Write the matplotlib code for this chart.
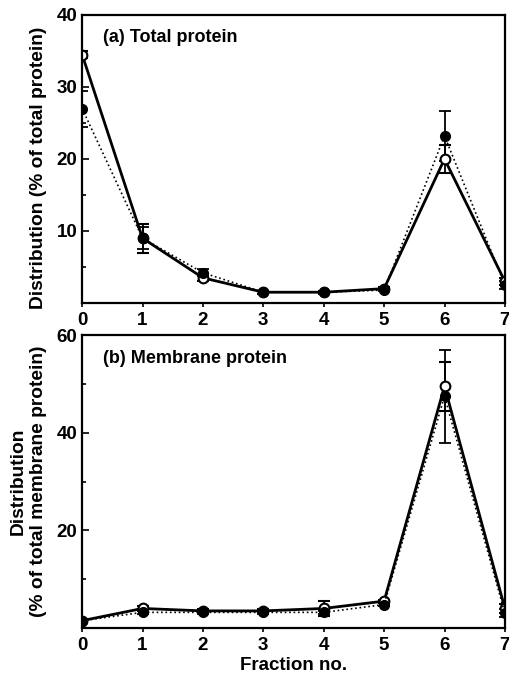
import matplotlib
matplotlib.use("Agg")
import matplotlib.pyplot as plt
from matplotlib.ticker import MultipleLocator

plt.rcParams["font.family"] = ["Liberation Sans", "DejaVu Sans"]

fractions = [0, 1, 2, 3, 4, 5, 6, 7]

# (a) total protein
totalOpen = [34.5, 9.0, 3.5, 1.5, 1.5, 2.0, 20.0, 3.0]
totalOpenErr = [0.5, 2.0, 0.4, 0.2, 0.2, 0.2, 2.0, 0.5]
totalFilled = [27.0, 9.0, 4.2, 1.5, 1.5, 1.8, 23.2, 2.5]
totalFilledErr = [2.5, 1.5, 0.5, 0.2, 0.2, 0.2, 3.5, 0.6]

# (b) membrane protein
membOpen = [1.5, 4.0, 3.5, 3.5, 4.0, 5.5, 49.5, 4.0]
membOpenErr = [0.3, 0.5, 0.3, 0.3, 1.5, 0.3, 5.0, 1.0]
membFilled = [1.5, 3.2, 3.2, 3.2, 3.2, 4.8, 47.5, 3.0]
membFilledErr = [0.3, 0.4, 0.3, 0.3, 0.3, 0.3, 9.5, 0.8]


def drawPanel(axes, openVals, openErr, filledVals, filledErr, yMax, yMajor, yTicks, title):
    axes.errorbar(fractions, openVals, yerr=openErr, color="black", linestyle="-",
                  linewidth=2, marker="o", markersize=7, markerfacecolor="white",
                  markeredgewidth=1.5, capsize=4, elinewidth=1.3, capthick=1.3)
    axes.errorbar(fractions, filledVals, yerr=filledErr, color="black", linestyle=":",
                  linewidth=1.2, marker="o", markersize=7, markerfacecolor="black",
                  capsize=4, elinewidth=1.3, capthick=1.3)
    axes.set_xlim(0, 7)
    axes.set_ylim(0, yMax)
    axes.xaxis.set_major_locator(MultipleLocator(1))
    axes.set_yticks(yTicks)
    axes.yaxis.set_minor_locator(MultipleLocator(yMajor / 2))
    axes.tick_params(axis="y", which="both", direction="in", width=1.2)
    axes.tick_params(axis="y", which="major", length=5)
    axes.tick_params(axis="y", which="minor", length=3)
    axes.tick_params(axis="x", direction="out", length=3, width=1.2)
    for lab in axes.get_xticklabels() + axes.get_yticklabels():
        lab.set_fontweight("bold")
        lab.set_fontsize(13.5)
    for spine in axes.spines.values():
        spine.set_linewidth(1.6)
    axes.text(0.05, 0.92, title, transform=axes.transAxes, fontsize=13,
              fontweight="bold", va="center", ha="left")


fig = plt.figure(figsize=(5.1, 6.77), dpi=100)
axTop = fig.add_axes([0.161, 0.5524, 0.829, 0.4256])
axBot = fig.add_axes([0.161, 0.0724, 0.829, 0.4326])

drawPanel(axTop, totalOpen, totalOpenErr, totalFilled, totalFilledErr, 40, 10,
          [10, 20, 30, 40], "(a) Total protein")
drawPanel(axBot, membOpen, membOpenErr, membFilled, membFilledErr, 60, 20,
          [20, 40, 60], "(b) Membrane protein")

axTop.set_ylabel("Distribution (% of total protein)", fontsize=13.8, fontweight="bold")
axTop.yaxis.set_label_coords(-0.083, 0.47)
axBot.set_ylabel("Distribution\n(% of total membrane protein)", fontsize=13.8,
                 fontweight="bold", linespacing=1.25)
axBot.yaxis.set_label_coords(-0.083, 0.5)
axBot.set_xlabel("Fraction no.", fontsize=13.5, fontweight="bold", labelpad=2)

plt.savefig("out.png", dpi=100)
